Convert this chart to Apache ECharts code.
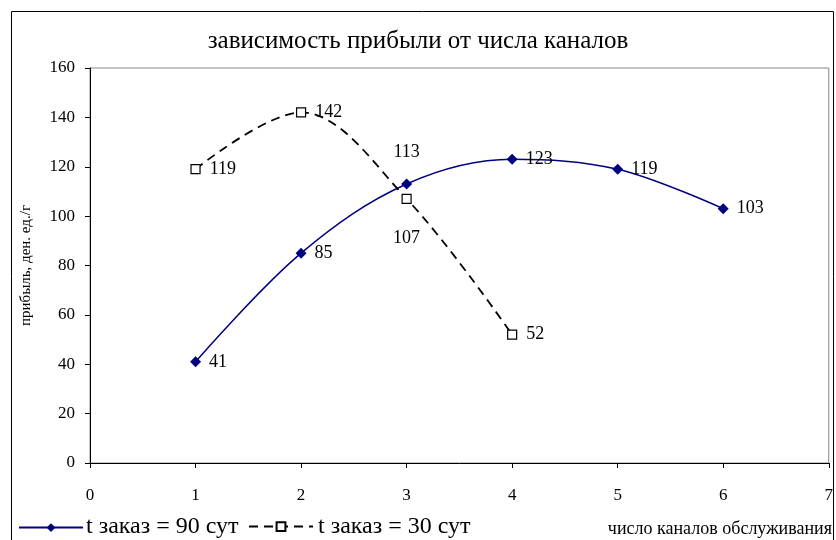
<!DOCTYPE html>
<html>
<head>
<meta charset="utf-8">
<script src="https://cdn.jsdelivr.net/npm/echarts@6/dist/echarts.min.js"></script>
<style>
  html, body { margin: 0; padding: 0; background: #fff; }
  #chart { width: 836px; height: 540px; }
</style>
</head>
<body>
<div id="chart"></div>
<script>
const channels90 = [1, 2, 3, 4, 5, 6];
const profit90 = [41, 85, 113, 123, 119, 103];
const channels30 = [1, 2, 3, 4];
const profit30 = [119, 142, 107, 52];
const yTicks = [0, 20, 40, 60, 80, 100, 120, 140, 160];
const xTicks = [0, 1, 2, 3, 4, 5, 6, 7];
const seriesNames = ['t заказ = 90 сут', 't заказ = 30 сут'];

// подписи: 113 над точкой, 107 под точкой
const pos90 = ['right', 'right', 'top', 'right', 'right', 'right'];
const pos30 = ['right', 'right', 'bottom', 'right'];

const font = 'Liberation Serif';

const chart = echarts.init(document.getElementById('chart'));

// легенда: значки из legend, подписи - через title (тот же шрифт, что и заголовок)
const legendLeft = [13, 243];
const legendText = [86, 318];

const titles = [{
  text: 'зависимость прибыли от числа каналов',
  left: 'center',
  top: 24,
  textStyle: { fontFamily: font, fontSize: 25, fontWeight: 'normal', color: '#000' }
}].concat(seriesNames.map((name, i) => ({
  text: name,
  left: legendText[i] - 5,
  bottom: -4,
  textStyle: { fontFamily: font, fontSize: 24, fontWeight: 'normal', color: '#000' }
})));

const option = {
  animation: false,
  textStyle: { fontFamily: font, color: '#000' },
  title: titles,
  graphic: [
    {
      type: 'rect',
      shape: { x: 11.5, y: 11.5, width: 822, height: 540 },
      style: { fill: 'none', stroke: '#000', lineWidth: 1 }
    },
    {
      type: 'text',
      right: 4,
      bottom: 2,
      style: { text: 'число каналов обслуживания', font: '18px "Liberation Serif"', fill: '#000' }
    }
  ],
  legend: seriesNames.map((name, i) => ({
    left: legendLeft[i],
    bottom: 3,
    itemWidth: 64,
    itemHeight: 11,
    formatter: () => '',
    data: [name]
  })),
  grid: {
    left: 90,
    right: 7,
    top: 68,
    bottom: 77,
    show: true,
    borderColor: '#888',
    borderWidth: 1
  },
  xAxis: {
    type: 'value',
    min: xTicks[0],
    max: xTicks[xTicks.length - 1],
    interval: 1,
    axisLine: { lineStyle: { color: '#000' } },
    axisTick: { inside: false, length: 5, lineStyle: { color: '#000' } },
    axisLabel: { fontFamily: font, fontSize: 17, color: '#000', margin: 24 },
    splitLine: { show: false }
  },
  yAxis: {
    type: 'value',
    min: yTicks[0],
    max: yTicks[yTicks.length - 1],
    interval: 20,
    name: 'прибыль, ден. ед./г',
    nameLocation: 'middle',
    nameGap: 56,
    nameTextStyle: { fontFamily: font, fontSize: 15, color: '#000' },
    axisLine: { show: true, lineStyle: { color: '#000' } },
    axisTick: { show: true, length: 5, lineStyle: { color: '#000' } },
    axisLabel: { fontFamily: font, fontSize: 17, color: '#000', margin: 15 },
    splitLine: { show: false }
  },
  series: [
    {
      name: seriesNames[0],
      type: 'line',
      smooth: 0.35,
      symbol: 'diamond',
      symbolSize: 11,
      itemStyle: { color: '#000080' },
      lineStyle: { color: '#000080', width: 1.5 },
      data: channels90.map((x, i) => ({
        value: [x, profit90[i]],
        label: { position: pos90[i], distance: pos90[i] === 'top' ? 17 : 8 }
      })),
      label: { show: true, fontFamily: font, fontSize: 18, color: '#000', formatter: p => p.value[1] }
    },
    {
      name: seriesNames[1],
      type: 'line',
      smooth: 0.35,
      symbol: 'rect',
      symbolSize: 9,
      itemStyle: { color: '#fff', borderColor: '#000', borderWidth: 1.2 },
      lineStyle: { color: '#000', width: 1.8, type: [9, 6] },
      data: channels30.map((x, i) => ({
        value: [x, profit30[i]],
        label: { position: pos30[i], distance: pos30[i] === 'bottom' ? 25 : 9 }
      })),
      label: { show: true, fontFamily: font, fontSize: 18, color: '#000', formatter: p => p.value[1] }
    }
  ]
};

chart.setOption(option);
</script>
</body>
</html>
